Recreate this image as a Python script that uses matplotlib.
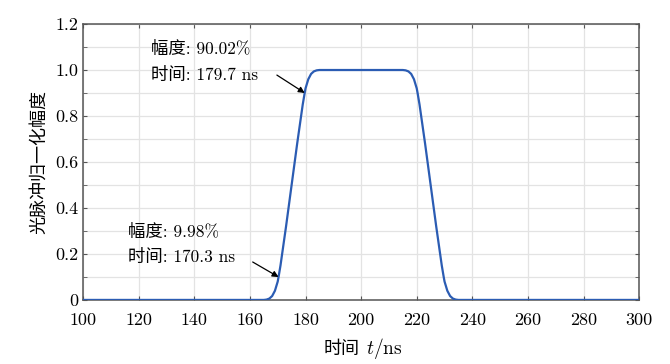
import matplotlib.pyplot as plt
from matplotlib.ticker import MultipleLocator

plt.rcParams['font.family'] = ['cmr10', 'Noto Sans CJK SC']
plt.rcParams['mathtext.fontset'] = 'cm'
plt.rcParams['axes.formatter.use_mathtext'] = True

# pulse samples (time in ns, normalized amplitude)
t_ns = [100, 150, 160, 164, 165, 166, 167, 168, 169, 170, 170.3, 171, 172, 173,
        174, 175, 176, 177, 178, 179, 179.7, 180, 181, 182, 183, 184, 185, 190,
        200, 210, 215, 216, 217, 218, 219, 220, 220.3, 221, 222, 223, 224, 225,
        226, 227, 228, 229, 229.7, 230, 231, 232, 233, 234, 235, 236, 240,
        250, 300]
amp = [0, 0, 0, 0, 0.0, 0.0015, 0.006, 0.017, 0.04, 0.08, 0.0998, 0.15, 0.235, 0.32,
       0.41, 0.50, 0.59, 0.68, 0.765, 0.85, 0.9002, 0.92, 0.96, 0.983, 0.994, 0.9985, 1.0, 1.0,
       1.0, 1.0, 1.0, 0.9985, 0.994, 0.983, 0.96, 0.92, 0.9002, 0.85, 0.765, 0.68, 0.59, 0.50,
       0.41, 0.32, 0.235, 0.15, 0.0998, 0.08, 0.04, 0.017, 0.006, 0.0015, 0.0, 0, 0,
       0, 0]

xticks = [100, 120, 140, 160, 180, 200, 220, 240, 260, 280, 300]
yticks = [0, 0.2, 0.4, 0.6, 0.8, 1.0, 1.2]
ytick_labels = ['0', '0.2', '0.4', '0.6', '0.8', '1.0', '1.2']

# annotated points
marks_t = [179.7, 170.3]
marks_a = [0.9002, 0.0998]
mark_text = ['幅度: 90.02%\n时间: 179.7 ns',
             '幅度: 9.98%\n时间: 170.3 ns']
text_pos = [(124.5, 1.035), (116.2, 0.243)]
arrow_tail = [(169.7, 0.978), (161.0, 0.165)]

fig = plt.figure(figsize=(6.7, 3.64), dpi=100)
ax = fig.add_axes([0.124, 0.176, 0.83, 0.758])

ax.plot(t_ns, amp, color='#2b5cb3', linewidth=1.6, zorder=3)

ax.set_xlim(100, 300)
ax.set_ylim(0, 1.2)
ax.set_xticks(xticks)
ax.set_xticklabels([str(x) for x in xticks])
ax.set_yticks(yticks)
ax.set_yticklabels(ytick_labels)
ax.yaxis.set_minor_locator(MultipleLocator(0.1))
ax.grid(True, which='both', color='#e3e3e3', linewidth=0.9)
ax.set_axisbelow(True)
ax.tick_params(which='both', direction='in', top=True, right=True,
               labelsize=13, color='#555555', length=3)
ax.tick_params(axis='x', pad=9)
for s in ax.spines.values():
    s.set_color('#555555')
    s.set_linewidth(1.1)

for i in range(len(marks_t)):
    ax.text(text_pos[i][0], text_pos[i][1], mark_text[i], fontsize=12.5,
            va='center', ha='left', linespacing=1.7)
    ax.annotate('', xy=(marks_t[i], marks_a[i]), xytext=arrow_tail[i],
                arrowprops=dict(arrowstyle='-|>', color='black', lw=0.9,
                                mutation_scale=9, shrinkA=0, shrinkB=0))

# x label: Chinese part and math part drawn side by side
ax.text(0.497, -0.196, '时间', transform=ax.transAxes, fontsize=13,
        ha='right', va='baseline')
ax.text(0.508, -0.196, '$t/\\mathrm{ns}$', transform=ax.transAxes, fontsize=14,
        ha='left', va='baseline')
ax.set_ylabel('光脉冲归一化幅度', fontsize=13, labelpad=6)

fig.savefig('out.png', dpi=100)
